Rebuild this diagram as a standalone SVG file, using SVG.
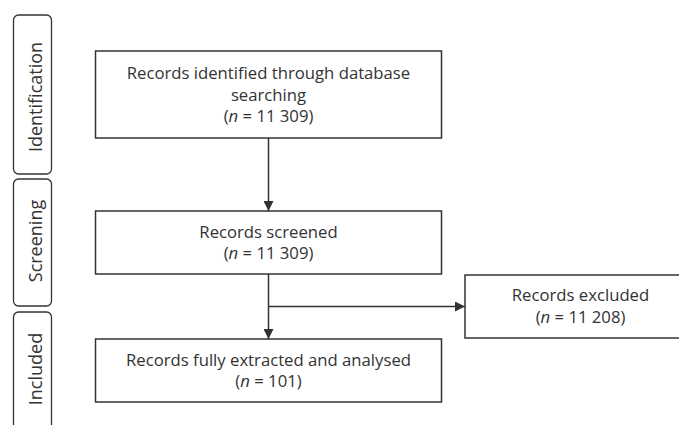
<svg xmlns="http://www.w3.org/2000/svg" width="679" height="425" viewBox="0 0 679 425">
  <style>
    .box { fill: #ffffff; stroke: #333333; stroke-width: 1.5; }
    .tab { fill: #ffffff; stroke: #333333; stroke-width: 1.3; }
    .lbl { font-family: "Open Sans", "Noto Sans", sans-serif; font-size: 16.7px; fill: #333333; text-anchor: middle; }
    .stage { font-family: "Open Sans", "Noto Sans", sans-serif; font-size: 18px; fill: #333333; text-anchor: middle; }
    .it { font-style: italic; }
    .edge { fill: none; stroke: #333333; stroke-width: 1.5; }
  </style>
  <defs>
    <marker id="arrow" viewBox="0 0 10 10" refX="10" refY="5" markerWidth="10" markerHeight="10" markerUnits="userSpaceOnUse" orient="auto">
      <path d="M0,0 L10,5 L0,10 Z" fill="#333333"/>
    </marker>
  </defs>
  <rect width="679" height="425" fill="#ffffff"/>

  <!-- stage tabs -->
  <g id="tab-identification">
    <rect class="tab" x="13.5" y="15" width="38" height="159" rx="5"/>
    <text class="stage" transform="translate(41.5,97) rotate(-90)">Identification</text>
  </g>
  <g id="tab-screening">
    <rect class="tab" x="13.5" y="179" width="38" height="127" rx="5"/>
    <text class="stage" transform="translate(41.5,241) rotate(-90)">Screening</text>
  </g>
  <g id="tab-included">
    <rect class="tab" x="13.5" y="312" width="38" height="130" rx="5"/>
    <text class="stage" transform="translate(41.5,369) rotate(-90)">Included</text>
  </g>

  <!-- connectors -->
  <g id="connectors">
    <line class="edge" x1="268.5" y1="138" x2="268.5" y2="211" marker-end="url(#arrow)"/>
    <line class="edge" x1="268.5" y1="274" x2="268.5" y2="339" marker-end="url(#arrow)"/>
    <line class="edge" x1="268.5" y1="306.5" x2="465" y2="306.5" marker-end="url(#arrow)"/>
  </g>

  <g id="node-identified">
    <rect class="box" x="95.5" y="51" width="346" height="87"/>
    <text class="lbl" x="268.5" y="79">Records identified through database</text>
    <text class="lbl" x="268.5" y="100.5">searching</text>
    <text class="lbl" x="268.5" y="122">(<tspan class="it">n</tspan> = 11 309)</text>
  </g>

  <g id="node-screened">
    <rect class="box" x="95.5" y="211" width="346" height="63"/>
    <text class="lbl" x="268.5" y="237.5">Records screened</text>
    <text class="lbl" x="268.5" y="258.5">(<tspan class="it">n</tspan> = 11 309)</text>
  </g>

  <g id="node-excluded">
    <rect class="box" x="465" y="275" width="230" height="63"/>
    <text class="lbl" x="580.5" y="301">Records excluded</text>
    <text class="lbl" x="580.5" y="322.5">(<tspan class="it">n</tspan> = 11 208)</text>
  </g>

  <g id="node-included">
    <rect class="box" x="95.5" y="339" width="346" height="63"/>
    <text class="lbl" x="268.5" y="365.5">Records fully extracted and analysed</text>
    <text class="lbl" x="268.5" y="387">(<tspan class="it">n</tspan> = 101)</text>
  </g>
</svg>
